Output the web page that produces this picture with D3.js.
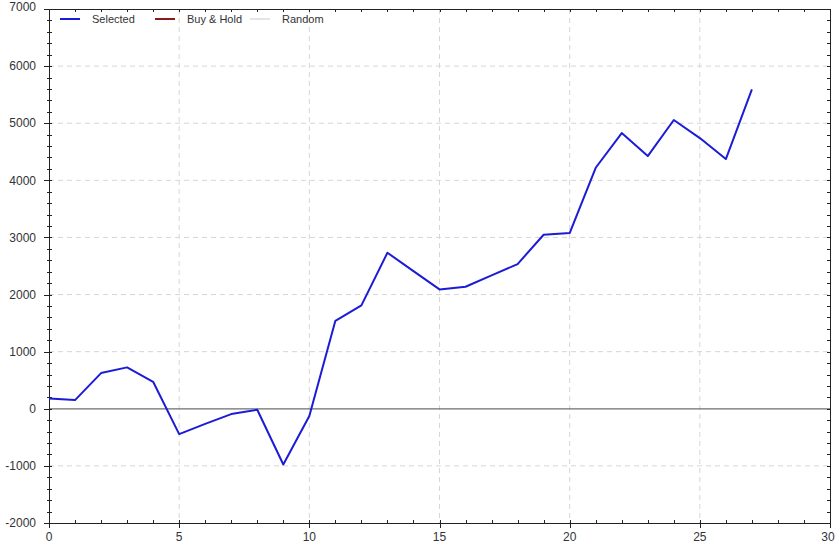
<!DOCTYPE html>
<html>
<head>
<meta charset="utf-8">
<script src="https://cdn.jsdelivr.net/npm/d3@7"></script>
<style>
  body { margin: 0; background: #fff; }
  svg { display: block; font-family: "Liberation Sans", Arial, sans-serif; }
</style>
</head>
<body>
<div id="chart"></div>
<script>
// equity curve values
const trades = d3.range(0, 28);
const selected = [182, 152, 625, 725, 473, -443, -265, -93, -17, -975,
                  -128, 1540, 1810, 2732, 2410, 2090, 2137, 2335, 2534, 3047,
                  3077, 4220, 4828, 4425, 5056, 4740, 4373, 5594];
const legendNames = ["Selected", "Buy & Hold", "Random"];
const legendColors = ["#1c1cd6", "#8b1a1a", "#e4e4e4"];
const xTicks = [0, 5, 10, 15, 20, 25, 30];
const yTicks = [-2000, -1000, 0, 1000, 2000, 3000, 4000, 5000, 6000, 7000];

const width = 840, height = 547;
const margin = {top: 9, right: 10, bottom: 24, left: 49};

const x = d3.scaleLinear().domain([0, 30]).range([margin.left, width - margin.right]);
const y = d3.scaleLinear().domain([-2000, 7000]).range([height - margin.bottom, margin.top]);

const svg = d3.select("#chart").append("svg")
    .attr("width", width)
    .attr("height", height);

// grid
svg.append("g")
    .attr("stroke", "#d6d6d6")
    .attr("stroke-dasharray", "5,4")
    .selectAll("line")
    .data(xTicks.slice(1, -1))
    .join("line")
    .attr("x1", d => x(d)).attr("x2", d => x(d))
    .attr("y1", y(7000)).attr("y2", y(-2000));

svg.append("g")
    .attr("stroke", "#d6d6d6")
    .attr("stroke-dasharray", "5,4")
    .selectAll("line")
    .data(yTicks.slice(1, -1).filter(d => d !== 0))
    .join("line")
    .attr("x1", x(0)).attr("x2", x(30))
    .attr("y1", d => y(d)).attr("y2", d => y(d));

// zero line
svg.append("line")
    .attr("x1", x(0)).attr("x2", x(30))
    .attr("y1", y(0)).attr("y2", y(0))
    .attr("stroke", "#6e6e6e")
    .attr("stroke-width", 1.2);

// frame
svg.append("rect")
    .attr("x", x(0) + 0.5).attr("y", y(7000) + 0.5)
    .attr("width", x(30) - x(0)).attr("height", y(-2000) - y(7000))
    .attr("fill", "none")
    .attr("stroke", "#222");

// minor / major ticks
const ticks = svg.append("g").attr("stroke", "#222").attr("stroke-width", 1);
const xMinor = d3.range(0, 31);
const yMinor = d3.range(-2000, 7001, 200);

// bottom axis ticks
ticks.selectAll(".xb").data(xMinor).join("line")
    .attr("x1", d => Math.round(x(d)) + 0.5).attr("x2", d => Math.round(x(d)) + 0.5)
    .attr("y1", d => y(-2000) - 3)
    .attr("y2", d => y(-2000) + (d % 5 === 0 ? 5 : 0));
// top axis ticks
ticks.selectAll(".xt").data(xMinor).join("line")
    .attr("x1", d => Math.round(x(d)) + 0.5).attr("x2", d => Math.round(x(d)) + 0.5)
    .attr("y1", y(7000)).attr("y2", d => y(7000) + 3);
// left axis ticks
ticks.selectAll(".yl").data(yMinor).join("line")
    .attr("y1", d => Math.round(y(d)) + 0.5).attr("y2", d => Math.round(y(d)) + 0.5)
    .attr("x1", d => x(0) - (d % 1000 === 0 ? 5 : 2))
    .attr("x2", d => x(0) + 3);
// right axis ticks
ticks.selectAll(".yr").data(yMinor).join("line")
    .attr("y1", d => Math.round(y(d)) + 0.5).attr("y2", d => Math.round(y(d)) + 0.5)
    .attr("x1", d => x(30) - 3).attr("x2", x(30));

// tick labels
svg.append("g")
    .attr("font-size", 12)
    .attr("fill", "#333")
    .attr("text-anchor", "end")
    .selectAll("text")
    .data(yTicks)
    .join("text")
    .attr("x", x(0) - 13)
    .attr("y", d => y(d))
    .attr("dy", d => d === 7000 ? "0.2em" : "0.35em")
    .text(d => d);

svg.append("g")
    .attr("font-size", 12)
    .attr("fill", "#333")
    .attr("text-anchor", "middle")
    .selectAll("text")
    .data(xTicks)
    .join("text")
    .attr("x", d => x(d) + (d === 30 ? -2 : 0))
    .attr("y", y(-2000) + 18)
    .text(d => d);

// the series
const line = d3.line()
    .x((d, i) => x(trades[i]))
    .y(d => y(d));

svg.append("path")
    .datum(selected)
    .attr("fill", "none")
    .attr("stroke", legendColors[0])
    .attr("stroke-width", 2)
    .attr("stroke-linejoin", "round")
    .attr("d", line);

// legend
const legendX = [60, 155, 250];
const legend = svg.append("g")
    .selectAll("g")
    .data(legendNames)
    .join("g")
    .attr("transform", (d, i) => `translate(${legendX[i]},19)`);

legend.append("line")
    .attr("x1", 0).attr("x2", 20)
    .attr("stroke", (d, i) => legendColors[i])
    .attr("stroke-width", 2);

legend.append("text")
    .attr("x", 32)
    .attr("dy", "0.35em")
    .attr("font-size", 11)
    .attr("fill", "#333")
    .text(d => d);
</script>
</body>
</html>
